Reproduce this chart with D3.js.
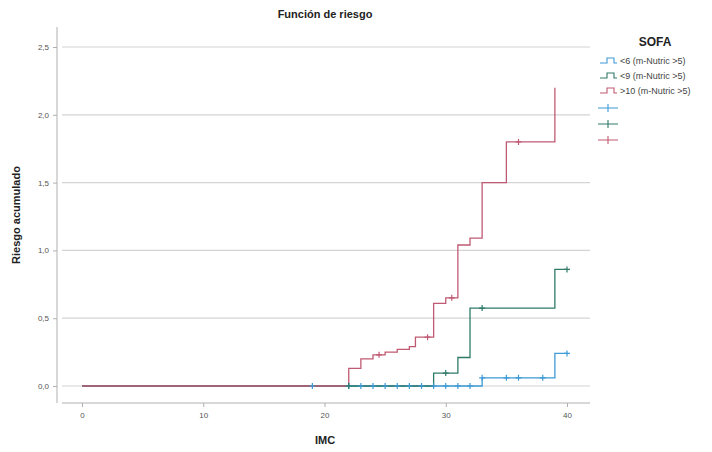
<!DOCTYPE html>
<html><head><meta charset="utf-8">
<script src="https://cdn.jsdelivr.net/npm/d3@7"></script>
<style>body{margin:0;background:#fff;overflow:hidden;} svg{display:block;font-family:"Liberation Sans",Arial,sans-serif;}</style>
</head><body><svg id="c" width="712" height="452"></svg>
<script>
const title = "Función de riesgo";
const xLabel = "IMC";
const yLabel = "Riesgo acumulado";
const legendTitle = "SOFA";
const seriesNames = ["<6 (m-Nutric >5)", "<9 (m-Nutric >5)", ">10 (m-Nutric >5)"];
const seriesColors = ["#3d9ad6", "#2f7a68", "#c05a72"];
const xTicks = [0, 10, 20, 30, 40];
const yTicks = [0, 0.5, 1.0, 1.5, 2.0, 2.5];
// step points [x, cumulative risk]
const blueSteps = [[0,0],[33,0.06],[39,0.24],[40,0.24]];
const blueCensor = [[19,0],[22,0],[23,0],[24,0],[25,0],[26,0],[27,0],[28,0],[29,0],[30,0],[31,0],[32,0],[33,0.06],[35,0.06],[36,0.06],[38,0.06],[40,0.24]];
const greenSteps = [[0,0],[29,0.095],[31,0.21],[32,0.575],[39,0.86],[40,0.86]];
const greenCensor = [[22,0],[30,0.095],[33,0.575],[40,0.86]];
const redSteps = [[0,0],[22,0.13],[23,0.20],[24,0.23],[25,0.25],[26,0.27],[27,0.29],[27.5,0.36],[29,0.61],[30,0.65],[31,1.04],[32,1.09],[33,1.50],[35,1.80],[39,2.20]];
const redCensor = [[24.5,0.23],[28.5,0.36],[30.5,0.65],[36,1.80]];

const svg = d3.select("#c");
const x = d3.scaleLinear().domain([0, 40]).range([82, 567]);
const y = d3.scaleLinear().domain([0, 2.5]).range([386, 47]);
const fmt = d => d3.format(".1f")(d).replace(".", ",");

// gridlines
svg.append("g").selectAll("line").data(yTicks).join("line")
  .attr("x1", 62).attr("x2", 590).attr("y1", d => y(d)).attr("y2", d => y(d))
  .attr("stroke", "#d4d4d4").attr("stroke-width", 1.2);

// y axis
const yAxis = d3.axisLeft(y).tickValues(yTicks).tickFormat(fmt).tickSize(4).tickPadding(4);
const gy = svg.append("g").attr("transform", "translate(57,0)").call(yAxis);
gy.select(".domain").attr("d", "M0,27V403").attr("stroke", "#b0b0b0");
gy.selectAll(".tick line").attr("stroke", "#b0b0b0");
gy.selectAll("text").attr("fill", "#555").attr("font-size", 8);

// x axis
const xAxis = d3.axisBottom(x).tickValues(xTicks).tickFormat(d3.format("d")).tickSize(4).tickPadding(5);
const gx = svg.append("g").attr("transform", "translate(0,403)").call(xAxis);
gx.select(".domain").attr("d", "M62,0H590").attr("stroke", "#b0b0b0");
gx.selectAll(".tick line").attr("stroke", "#b0b0b0");
gx.selectAll("text").attr("fill", "#555").attr("font-size", 8);

const line = d3.line().x(d => x(d[0])).y(d => y(d[1])).curve(d3.curveStepAfter);
const series = [
  {steps: blueSteps, cens: blueCensor, c: seriesColors[0]},
  {steps: greenSteps, cens: greenCensor, c: seriesColors[1]},
  {steps: redSteps, cens: redCensor, c: seriesColors[2]}
];
series.forEach(s => {
  svg.append("path").datum(s.steps).attr("d", line).attr("fill", "none")
    .attr("stroke", s.c).attr("stroke-width", 1.3);
});
series.forEach(s => {
  const g = svg.append("g");
  g.selectAll("path").data(s.cens).join("path")
    .attr("d", d => `M${x(d[0])-3},${y(d[1])}h6M${x(d[0])},${y(d[1])-3}v6`)
    .attr("stroke", s.c).attr("stroke-width", 1.2);
});

// title & labels
svg.append("text").attr("x", 325).attr("y", 18).attr("text-anchor", "middle")
  .attr("font-size", 11).attr("font-weight", "bold").attr("fill", "#222").text(title);
svg.append("text").attr("x", 325).attr("y", 444).attr("text-anchor", "middle")
  .attr("font-size", 11).attr("font-weight", "bold").attr("fill", "#222").text(xLabel);
svg.append("text").attr("transform", "translate(20,215) rotate(-90)").attr("text-anchor", "middle")
  .attr("font-size", 11).attr("font-weight", "bold").attr("fill", "#222").text(yLabel);

// legend
const lg = svg.append("g");
lg.append("text").attr("x", 655).attr("y", 46).attr("text-anchor", "middle")
  .attr("font-size", 12).attr("font-weight", "bold").attr("fill", "#222").text(legendTitle);
seriesNames.forEach((n, i) => {
  const yy = 61 + i * 15;
  lg.append("path").attr("d", `M600,${yy+2}h7v-5h7v5h3`).attr("fill", "none")
    .attr("stroke", seriesColors[i]).attr("stroke-width", 1.1);
  lg.append("text").attr("x", 620).attr("y", yy + 3).attr("font-size", 9)
    .attr("fill", "#444").text(n);
});
seriesColors.forEach((c, i) => {
  const yy = 108 + i * 16;
  lg.append("path").attr("d", `M598,${yy}h20M608,${yy-4}v8`).attr("stroke", c).attr("stroke-width", 1.1);
});
</script></body></html>
